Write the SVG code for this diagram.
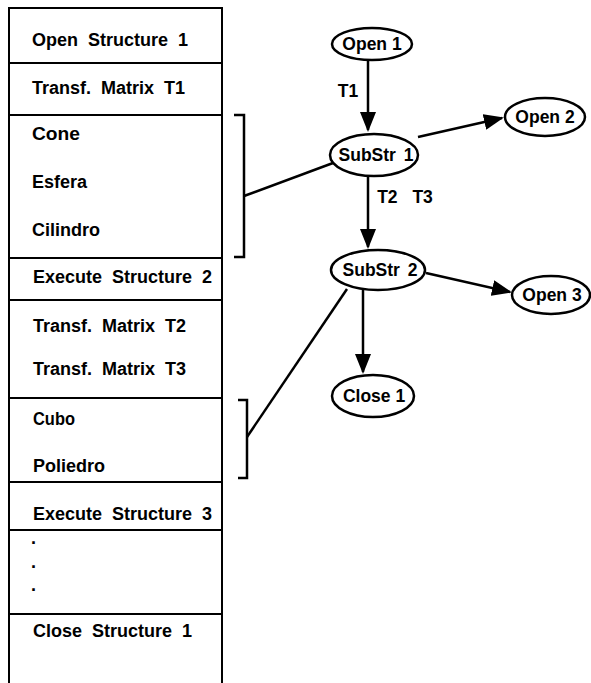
<svg xmlns="http://www.w3.org/2000/svg" width="591" height="683" viewBox="0 0 591 683">
<style>
.t{font-family:"Liberation Sans",Arial,sans-serif;font-weight:bold;font-size:18px;fill:#000;word-spacing:5px}
.n{font-family:"Liberation Sans",Arial,sans-serif;font-weight:bold;font-size:17.5px;fill:#000;text-anchor:middle}
.box{fill:none;stroke:#000;stroke-width:2}
.e{fill:#fff;stroke:#000;stroke-width:2.5}
.c{fill:none;stroke:#000;stroke-width:2.5}
</style>
<defs>
<marker id="ah" viewBox="0 0 20 16" refX="18" refY="8" markerWidth="20" markerHeight="16" markerUnits="userSpaceOnUse" orient="auto">
<path d="M0,0 L20,8 L0,16 Z" fill="#000"/>
</marker>
</defs>
<g id="structure-list">
<path class="box" d="M9,683 V8 H222 V683 M9,63 H222 M9,115 H222 M9,258 H222 M9,300 H222 M9,398 H222 M9,482 H222 M9,530 H222 M9,614 H222"/>
<text class="t" x="32" y="46">Open Structure 1</text>
<text class="t" x="32" y="94">Transf. Matrix T1</text>
<text class="t" x="32" y="140" textLength="48" lengthAdjust="spacingAndGlyphs">Cone</text>
<text class="t" x="32" y="188">Esfera</text>
<text class="t" x="32" y="236">Cilindro</text>
<text class="t" x="33" y="283">Execute Structure 2</text>
<text class="t" x="33" y="332">Transf. Matrix T2</text>
<text class="t" x="33" y="375">Transf. Matrix T3</text>
<text class="t" x="33" y="425" textLength="42" lengthAdjust="spacingAndGlyphs">Cubo</text>
<text class="t" x="33" y="472">Poliedro</text>
<text class="t" x="33" y="520">Execute Structure 3</text>
<text class="t" x="31" y="544">.</text>
<text class="t" x="31" y="568">.</text>
<text class="t" x="31" y="591">.</text>
<text class="t" x="33" y="637">Close Structure 1</text>
</g>
<g id="connectors">
<path class="c" d="M234,115 H244 V257 H234"/>
<path class="c" d="M238,400 H247 V478 H238"/>
<line class="c" x1="244" y1="196" x2="333" y2="163"/>
<line class="c" x1="247" y1="437" x2="347" y2="289"/>
<line class="c" x1="368" y1="60" x2="368" y2="130" marker-end="url(#ah)"/>
<line class="c" x1="418" y1="137" x2="502" y2="118" marker-end="url(#ah)"/>
<line class="c" x1="368" y1="176" x2="368" y2="247" marker-end="url(#ah)"/>
<line class="c" x1="426" y1="273" x2="510" y2="292" marker-end="url(#ah)"/>
<line class="c" x1="363" y1="290" x2="363" y2="372" marker-end="url(#ah)"/>
<text class="n" x="348" y="97">T1</text>
<text class="n" x="405" y="203" style="word-spacing:10px">T2 T3</text>
</g>
<g id="open1"><ellipse class="e" cx="372" cy="44" rx="40" ry="16"/><text class="n" x="372" y="50">Open 1</text></g>
<g id="substr1"><ellipse class="e" cx="374" cy="155" rx="44" ry="21"/><text class="n" x="376" y="161" style="word-spacing:3px">SubStr 1</text></g>
<g id="open2"><ellipse class="e" cx="545" cy="117" rx="40" ry="19"/><text class="n" x="545" y="123">Open 2</text></g>
<g id="substr2"><ellipse class="e" cx="378" cy="270" rx="47" ry="20"/><text class="n" x="380" y="276" style="word-spacing:3px">SubStr 2</text></g>
<g id="open3"><ellipse class="e" cx="551" cy="295" rx="39" ry="19"/><text class="n" x="552" y="301">Open 3</text></g>
<g id="close1"><ellipse class="e" cx="373" cy="396" rx="41" ry="21"/><text class="n" x="374" y="402">Close 1</text></g>
</svg>
